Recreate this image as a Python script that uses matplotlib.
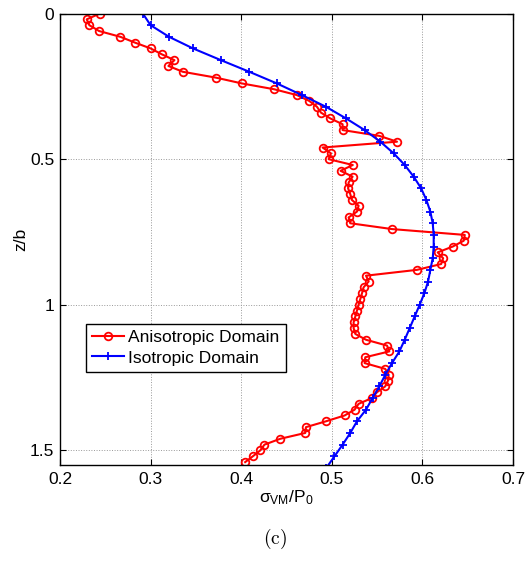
import numpy as np
import matplotlib
matplotlib.use("Agg")
import matplotlib.pyplot as plt

plt.rcParams["font.family"] = ["Liberation Sans", "DejaVu Sans"]
plt.rcParams["mathtext.default"] = "regular"

# anisotropic domain, sampled every 0.02 in z/b
z_aniso = [0.00, 0.02, 0.04, 0.06, 0.08, 0.10, 0.12, 0.14, 0.16, 0.18,
           0.20, 0.22, 0.24, 0.26, 0.28, 0.30, 0.32, 0.34, 0.36, 0.38,
           0.40, 0.42, 0.44, 0.46, 0.48, 0.50, 0.52, 0.54, 0.56, 0.58,
           0.60, 0.62, 0.64, 0.66, 0.68, 0.70, 0.72, 0.74, 0.76, 0.78,
           0.80, 0.82, 0.84, 0.86, 0.88, 0.90, 0.92, 0.94, 0.96, 0.98,
           1.00, 1.02, 1.04, 1.06, 1.08, 1.10, 1.12, 1.14, 1.16, 1.18,
           1.20, 1.22, 1.24, 1.26, 1.28, 1.30, 1.32, 1.34, 1.36, 1.38,
           1.40, 1.42, 1.44, 1.46, 1.48, 1.50, 1.52, 1.54]
s_aniso = [0.244, 0.2295, 0.2324, 0.2431, 0.2667, 0.2829, 0.3002, 0.3124, 0.3263, 0.3197,
           0.3356, 0.3720, 0.4008, 0.4365, 0.4615, 0.4751, 0.4836, 0.4880, 0.4983, 0.5119,
           0.5119, 0.5525, 0.5720, 0.4899, 0.4991, 0.4965, 0.5232, 0.5097, 0.5230, 0.5186,
           0.5180, 0.5204, 0.5222, 0.5296, 0.5278, 0.5186, 0.5204, 0.5665, 0.6468, 0.6457,
           0.6335, 0.6169, 0.6229, 0.6207, 0.5941, 0.5378, 0.5407, 0.5351, 0.5334, 0.5315,
           0.5296, 0.5278, 0.5260, 0.5241, 0.5241, 0.5260, 0.5378, 0.5610, 0.5635, 0.5370,
           0.5362, 0.5590, 0.5628, 0.5621, 0.5590, 0.5499, 0.5444, 0.5296, 0.5252, 0.5141,
           0.4935, 0.4715, 0.4707, 0.4431, 0.4257, 0.4210, 0.4129, 0.4044]

# isotropic domain, sampled every 0.04
z_iso = [0.00, 0.04, 0.08, 0.12, 0.16, 0.20, 0.24, 0.28, 0.32, 0.36,
         0.40, 0.44, 0.48, 0.52, 0.56, 0.60, 0.64, 0.68, 0.72, 0.76,
         0.80, 0.84, 0.88, 0.92, 0.96, 1.00, 1.04, 1.08, 1.12, 1.16,
         1.20, 1.24, 1.28, 1.32, 1.36, 1.40, 1.44, 1.48, 1.52, 1.56]
s_iso = [0.2914, 0.3000, 0.3204, 0.3470, 0.3776, 0.4090, 0.4394, 0.4670, 0.4935, 0.5157,
         0.5362, 0.5536, 0.5683, 0.5805, 0.5904, 0.5986, 0.6044, 0.6088, 0.6114, 0.6125,
         0.6125, 0.6114, 0.6088, 0.6063, 0.6022, 0.5970, 0.5915, 0.5860, 0.5805, 0.5746,
         0.5665, 0.5591, 0.5525, 0.5450, 0.5378, 0.5278, 0.5204, 0.5120, 0.5030, 0.4940]

xticks = [0.2, 0.3, 0.4, 0.5, 0.6, 0.7]
yticks = [0, 0.5, 1, 1.5]
ytick_labels = ["0", "0.5", "1", "1.5"]

FS = 12.5

fig = plt.figure(figsize=(5.29, 5.76), dpi=100)
ax = fig.add_axes([0.1134, 0.1932, 0.8563, 0.7833])

ax.plot(s_aniso, z_aniso, color="red", lw=1.5, marker="o", ms=5.5,
        mfc="none", mec="red", mew=1.3, label="Anisotropic Domain")
ax.plot(s_iso, z_iso, color="blue", lw=1.5, marker="+", ms=6,
        mew=1.3, label="Isotropic Domain")

ax.set_xlim(0.2, 0.7)
ax.set_ylim(1.549, 0)
ax.set_xticks(xticks)
ax.set_xticklabels([f"{v:g}" for v in xticks])
ax.set_yticks(yticks)
ax.set_yticklabels(ytick_labels)
ax.tick_params(direction="in", top=True, right=True, length=4,
               labelsize=FS, width=0.8)
ax.tick_params(axis="x", pad=5)
ax.tick_params(axis="y", pad=4)
ax.grid(True, ls=":", color="0.6", lw=0.7)
for sp in ax.spines.values():
    sp.set_linewidth(1.0)

ax.set_xlabel(r"$\sigma_{VM}$/P$_0$", fontsize=FS, labelpad=1)
ax.set_ylabel("z/b", fontsize=FS, labelpad=1)

leg = ax.legend(loc="upper left", bbox_to_anchor=(0.057, 0.312),
                fontsize=FS, numpoints=1, handlelength=1.85,
                handletextpad=0.25, borderpad=0.35, labelspacing=0.3,
                fancybox=False, framealpha=1, edgecolor="black",
                borderaxespad=0)
leg.get_frame().set_linewidth(1.0)

fig.text(0.52, 0.065, r"$\mathrm{(c)}$", ha="center", va="center",
         fontsize=14, math_fontfamily="cm")

fig.savefig("out.png", dpi=100)
